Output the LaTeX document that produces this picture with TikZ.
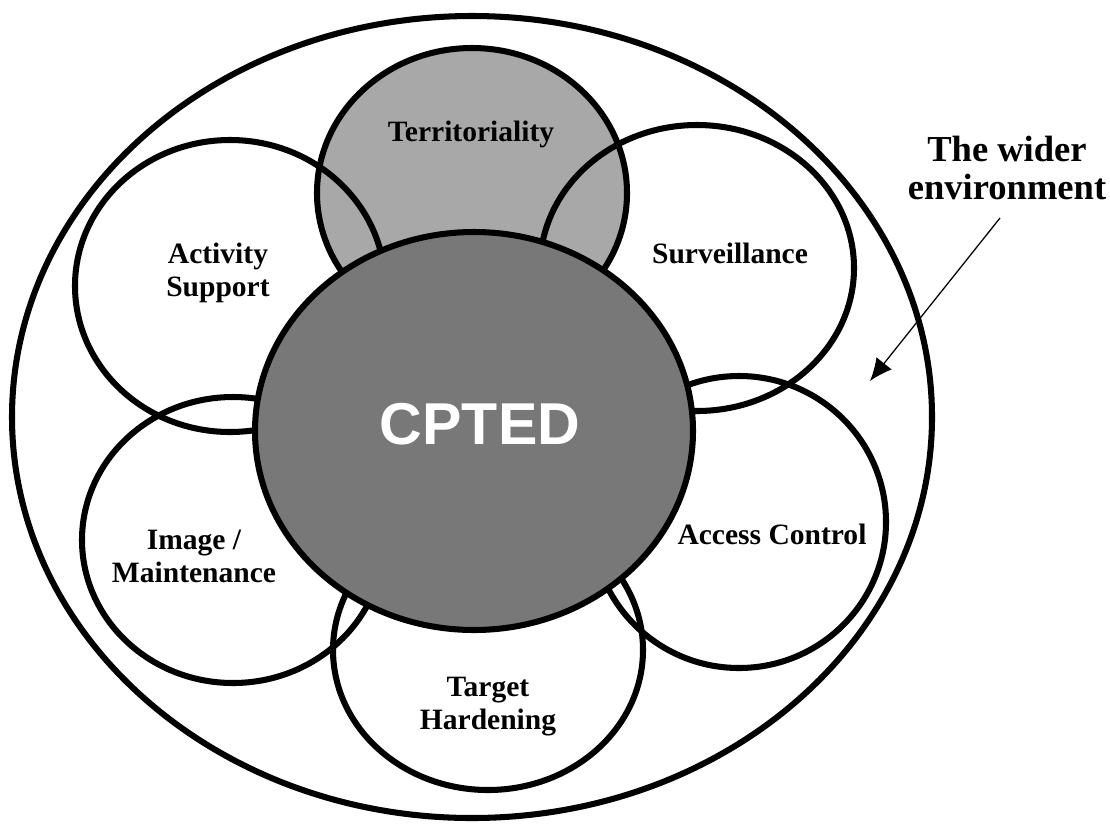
\documentclass[tikz,border=0pt]{standalone}
\usepackage{fontspec}
\setmainfont{Liberation Serif}
\newfontfamily\cptedfont{Liberation Sans}
\usetikzlibrary{arrows.meta}
\tikzset{>={Latex[length=16pt,width=14pt]}}
\definecolor{terrgray}{gray}{0.66}
\definecolor{cptedgray}{gray}{0.47}
\tikzset{ring/.style={line width=4.3pt},
    lbl/.style={font=\fontsize{21}{23.5}\selectfont\bfseries, align=center, inner sep=0pt}}

\begin{document}
\begin{tikzpicture}[x=0.025cm, y=-0.025cm]
    \useasboundingbox (0, 0) rectangle (1110, 823);
    % wider environment and the six rings
    \draw[ring](472, 417) ellipse (460 and 401);
    \draw[ring, fill=terrgray](472, 193) ellipse (155 and 145);
    \draw[ring](230, 286) ellipse (155 and 146);
    \draw[ring](697, 268) ellipse (157 and 143);
    \draw[ring](233, 540) ellipse (151 and 143);
    \draw[ring](739, 522) ellipse (147 and 146);
    \draw[ring](488, 650) ellipse (155 and 140);
    \draw[ring, fill=cptedgray](474, 431) ellipse (219 and 199);
    % labels
    \node[lbl](terr) at (471, 134) {Territoriality};
    \node[lbl](act) at (218, 273) {Activity\\Support};
    \node[lbl](surv) at (730, 253) {Surveillance};
    \node[lbl](acc) at (772, 534) {Access Control};
    \node[lbl](img) at (194, 556) {Image /\\Maintenance};
    \node[lbl](targ) at (488, 707) {Target\\Hardening};
    \node[font=\cptedfont\fontsize{42}{42}\selectfont\bfseries, text=white](cpted) at (480, 424) {CPTED};
    \node[font=\fontsize{26}{27}\selectfont\bfseries, align=center](wider) at (1007, 168) {The wider\\environment};
    \coordinate (tail) at (1000, 218);
    \coordinate (tip) at (870, 381);
    \draw[->, line width=0.9pt](tail) -- (tip);
\end{tikzpicture}
\end{document}
